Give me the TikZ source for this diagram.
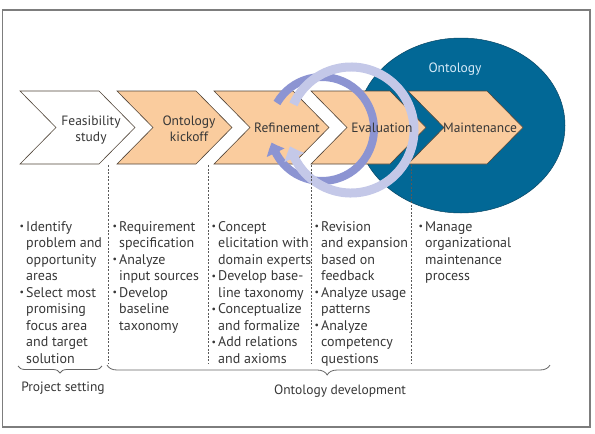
\documentclass[tikz,border=0pt]{standalone}
\usepackage{fontspec}
\usepackage{graphicx}
\setmainfont{PT Sans}
\usetikzlibrary{arrows.meta,bending,decorations.pathreplacing}
\definecolor{peach}{RGB}{250,204,158}
\definecolor{edgec}{RGB}{80,68,56}
\definecolor{ontblue}{RGB}{2,104,150}
\definecolor{ontedge}{RGB}{10,70,100}
\definecolor{ringdark}{RGB}{140,148,210}
\definecolor{ringlight}{RGB}{196,200,232}
\definecolor{txt}{RGB}{55,55,55}
\definecolor{framec}{RGB}{125,125,125}
\newcommand{\bitem}{\makebox[6.5pt][l]{\raisebox{0.12em}{\scalebox{0.7}{•}}}}
\newcommand{\bcont}{\hspace*{6.5pt}}
\tikzset{
  every node/.style={text=txt, inner sep=0pt},
  chev/.style={draw=edgec, line width=0.6pt},
  lab/.style={font=\fontsize{13.5}{16}\selectfont, align=center},
  col/.style={font=\fontsize{14}{16.5}\selectfont, align=left, anchor=north west},
  divider/.style={draw=black!65, dash pattern=on 2pt off 1.6pt, line width=0.6pt},
  bracec/.style={draw=black!60, line width=0.8pt, decorate},
  ringd/.style={draw=ringdark, line width=8pt, -{Triangle[length=11pt,width=19pt,bend]}},
  ringl/.style={draw=ringlight, line width=9pt, -{Triangle[length=12pt,width=21pt,bend]}}
}
\begin{document}
\begin{tikzpicture}[x=1pt,y=1pt]
\useasboundingbox (0,0) rectangle (595,-434);
\draw[framec, line width=1.2pt] (2.5,-10) rectangle (590,-427);
% ontology ellipse
\draw[ontedge, fill=ontblue, line width=0.5pt] (461,-125.5) ellipse [x radius=104, y radius=87.5];
\node[text={rgb,255:red,215;green,235;blue,248}, font=\fontsize{13.5}{16}\selectfont] (ont) at (455,-69) {Ontology};
% chevrons
\foreach \x/\f in {20/white,117/peach,214/peach,311/peach,408/peach}
  \draw[chev, fill=\f] (\x,-91) -- ++(79,0) -- ++(36,-36.5) -- ++(-36,-36.5) -- ++(-79,0) -- ++(36,36.5) -- cycle;
% cycle rings
\coordinate (cd) at (322,-129);
\coordinate (cl) at (351,-130);
\draw[ringd] (cd) ++(150:52) arc[start angle=150, end angle=-165, radius=52];
\draw[ringl] (cl) ++(156:63) arc[start angle=156, end angle=-165, radius=63];
% chevron labels
\node[lab] (feas) at (91,-130) {Feasibility\\study};
\node[lab] (kick) at (189,-129) {Ontology\\kickoff};
\node[lab] (refi) at (287,-127.5) {Refinement};
\node[lab] (eval) at (382,-127.5) {Evaluation};
\node[lab] (main) at (480,-127.5) {Maintenance};
% dividers
\foreach \x [count=\i] in {108,208,311,411.5}{
  \coordinate (dt\i) at (\x,-165);
  \coordinate (db\i) at (\x,-364);
  \draw[divider] (dt\i) -- (db\i);
}
% columns
\node[col] (c1) at (19.5,-221) {\rule{0pt}{10pt}\bitem Identify\\
\bcont problem and\\ \bcont opportunity\\ \bcont areas\\
\bitem Select most\\ \bcont promising\\ \bcont focus area\\ \bcont and target\\ \bcont solution};
\node[col] (c2) at (112.5,-221) {\rule{0pt}{10pt}\bitem Requirement\\
\bcont specification\\ \bitem Analyze\\ \bcont input sources\\
\bitem Develop\\ \bcont baseline\\ \bcont taxonomy};
\node[col] (c3) at (211.5,-221) {\rule{0pt}{10pt}\bitem Concept\\
\bcont elicitation with\\ \bcont domain experts\\ \bitem Develop base-\\
\bcont line taxonomy\\ \bitem Conceptualize\\ \bcont and formalize\\
\bitem Add relations\\ \bcont and axioms};
\node[col] (c4) at (314.5,-221) {\rule{0pt}{10pt}\bitem Revision\\
\bcont and expansion\\ \bcont based on\\ \bcont feedback\\
\bitem Analyze usage\\ \bcont patterns\\ \bitem Analyze\\ \bcont competency\\ \bcont questions};
\node[col] (c5) at (418.5,-221) {\rule{0pt}{10pt}\bitem Manage\\
\bcont organizational\\ \bcont maintenance\\ \bcont process};
% braces
\coordinate (b1l) at (18,-366);
\coordinate (b1r) at (102,-366);
\coordinate (b2l) at (107,-365);
\coordinate (b2r) at (550,-365);
\draw[bracec, decoration={brace, mirror, amplitude=7pt}] (b1l) -- (b1r);
\draw[bracec, decoration={brace, mirror, amplitude=10pt, aspect=0.497}] (b2l) -- (b2r);
\node[lab] (ps) at (63,-388) {Project setting};
\node[lab] (od) at (340,-391) {Ontology development};
\end{tikzpicture}
\end{document}
